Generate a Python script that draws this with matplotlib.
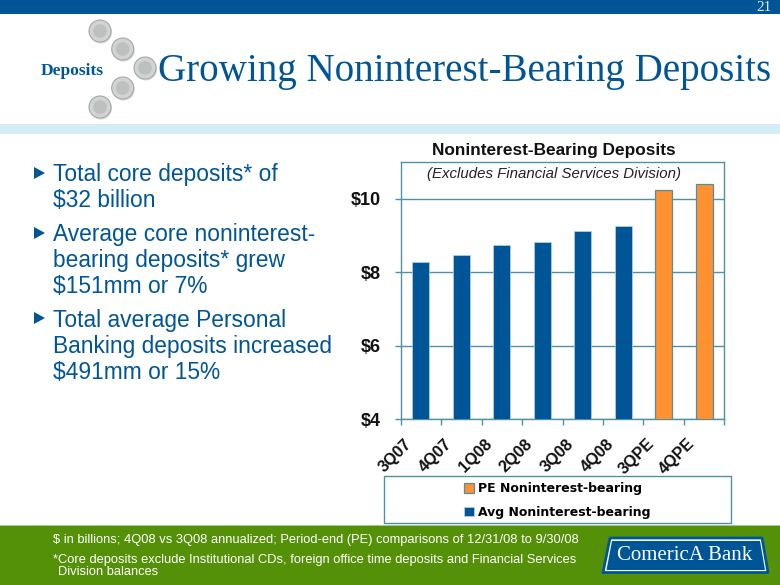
import matplotlib
matplotlib.use("Agg")
import matplotlib.pyplot as plt
from matplotlib.patches import Rectangle, Circle, Polygon
from matplotlib.transforms import ScaledTranslation

categories = ["3Q07", "4Q07", "1Q08", "2Q08", "3Q08", "4Q08", "3QPE", "4QPE"]
avg_values = [8.27, 8.48, 8.74, 8.83, 9.11, 9.25, None, None]
pe_values = [None, None, None, None, None, None, 10.25, 10.41]
y_ticks = [4, 6, 8, 10]
y_labels = ["$4", "$6", "$8", "$10"]
bullets = [
    ("Total core deposits* of\n$32 billion", 163, 173),
    ("Average core noninterest-\nbearing deposits* grew\n$151mm or 7%", 223, 233),
    ("Total average Personal\nBanking deposits increased\n$491mm or 15%", 309, 318),
]
coins = [(100, 31, 11), (122.7, 49, 11), (145, 68, 11), (122.7, 88, 11), (100, 107, 11)]

BLUE = "#005596"
ORANGE = "#FF9131"
TEAL = "#4F8FA8"
GREEN = "#559009"
SANS = "Liberation Sans"
SERIF = "Liberation Serif"

W, H = 780, 585
fig = plt.figure(figsize=(W / 100, H / 100), dpi=100, facecolor="white")

bg = fig.add_axes([0, 0, 1, 1], zorder=0)
bg.set_xlim(0, W)
bg.set_ylim(H, 0)
bg.axis("off")

bg.add_patch(Rectangle((0, 0), W, 13.5, fc=BLUE, ec="none"))
bg.add_patch(Rectangle((0, 124), W, 10, fc="#D3ECF5", ec="none"))
bg.add_patch(Rectangle((0, 525), W, 60, fc=GREEN, ec="none"))
bg.add_patch(Rectangle((0, 524.5), W, 1, fc="#A9C68A", ec="none"))

for cx, cy, r in coins:
    bg.add_patch(Circle((cx + 1, cy + 1.5), r, fc="#BDBDBD", ec="none", alpha=0.6))
    bg.add_patch(Circle((cx, cy), r, fc="#D2D4D3", ec="#A5A9A8", lw=0.8))
    bg.add_patch(Circle((cx, cy), r * 0.62, fc="#BCC0BF", ec="none"))

bg.text(772, 7.5, "21", family=SERIF, fontsize=11, color="#E4EEF5", ha="right", va="center")
bg.text(72.5, 71, "Deposits", family=SERIF, fontsize=12.5, fontweight="bold", color=BLUE, ha="center", va="center")
bg.text(158, 71, "Growing Noninterest-Bearing Deposits", family=SERIF, fontsize=28.1, color=BLUE, ha="left", va="center")

for txt, y, tri in bullets:
    bg.add_patch(Polygon([(34, tri - 6), (34, tri + 6), (45, tri)], closed=True, fc=BLUE, ec="none"))
    bg.text(53, y, txt, family=SANS, fontsize=16.4, color=BLUE, ha="left", va="top", linespacing=1.17)

bg.text(553.5, 150.5, "Noninterest-Bearing Deposits", family=SANS, fontsize=12.4, fontweight="bold", color="#111111", ha="center", va="center")

bg.text(53, 539.5, "$ in billions; 4Q08 vs 3Q08 annualized; Period-end (PE) comparisons of 12/31/08 to 9/30/08",
        family=SANS, fontsize=9.3, color="white", ha="left", va="center")
bg.text(53, 560, "*Core deposits exclude Institutional CDs, foreign office time deposits and Financial Services",
        family=SANS, fontsize=9.3, color="white", ha="left", va="center")
bg.text(58, 572, "Division balances", family=SANS, fontsize=9.3, color="white", ha="left", va="center")

bg.add_patch(Polygon([(610, 538), (762, 538), (768, 572.5), (603, 572.5)], closed=True,
                     fc="white", ec=BLUE, lw=2, joinstyle="round"))
bg.add_patch(Polygon([(612, 541), (760, 541), (765, 570), (606.5, 570)], closed=True,
                     fc=BLUE, ec="none", joinstyle="round"))
bg.text(685, 555.5, "ComericA Bank", family=SERIF, fontsize=15, color="white", ha="center", va="center")

L, R, T, B = 400.7, 724.3, 162, 419.3
bg.add_patch(Rectangle((383.5, 476), 347.5, 47, fc="white", ec=TEAL, lw=1))

ax = fig.add_axes([L / W, 1 - B / H, (R - L) / W, (B - T) / H], zorder=2)
ax.patch.set_alpha(0)
xs = list(range(len(categories)))
ax.set_axisbelow(True)
ax.grid(axis="y", color=TEAL, lw=1)
avg_x = [x for x, v in zip(xs, avg_values) if v is not None]
avg_y = [v for v in avg_values if v is not None]
pe_x = [x for x, v in zip(xs, pe_values) if v is not None]
pe_y = [v for v in pe_values if v is not None]
ax.bar(avg_x, avg_y, width=0.42, color=BLUE, edgecolor="#B8D3E2", lw=0.5, label="Avg Noninterest-bearing", zorder=3)
ax.bar(pe_x, pe_y, width=0.42, color=ORANGE, edgecolor=TEAL, lw=0.9, label="PE Noninterest-bearing", zorder=3)

ax.set_xlim(-0.5, 7.5)
ax.set_ylim(4, 11)
ax.set_yticks(y_ticks)
ax.set_yticklabels(y_labels, family=SANS, fontsize=13, fontweight="bold", color="#111111")
ax.tick_params(axis="y", length=4.2, color=TEAL, width=1, pad=10)
ax.set_xticks([x - 0.5 for x in range(9)], minor=True)
ax.set_xticks(xs)
ax.set_xticklabels(categories, family=SANS, fontsize=11.7, fontweight="bold", color="#111111",
                   rotation=45, ha="right", va="top", rotation_mode="anchor")
ax.tick_params(axis="x", which="major", length=0, pad=12)
ax.tick_params(axis="x", which="minor", length=4, color=TEAL, width=1)
offset = ScaledTranslation(-17 / 100, 0, fig.dpi_scale_trans)
for lab in ax.get_xticklabels():
    lab.set_transform(lab.get_transform() + offset)
for s in ax.spines.values():
    s.set_color(TEAL)
    s.set_linewidth(1)

ax.text(0.474, 0.953, "(Excludes Financial Services Division)", transform=ax.transAxes, family=SANS,
        fontsize=10.8, fontstyle="italic", color="#222222", ha="center", va="center")

handles, labels = ax.get_legend_handles_labels()
leg = fig.legend(handles[::-1], labels[::-1], loc="center", bbox_to_anchor=(557 / W, 1 - 500.5 / H),
                 prop={"family": "DejaVu Sans", "weight": "bold", "size": 9}, frameon=False,
                 ncol=1, handlelength=0.85, handleheight=0.85,
                 handletextpad=0.3, labelspacing=0.85, borderpad=0.3)

fig.savefig("out.png", dpi=100)
